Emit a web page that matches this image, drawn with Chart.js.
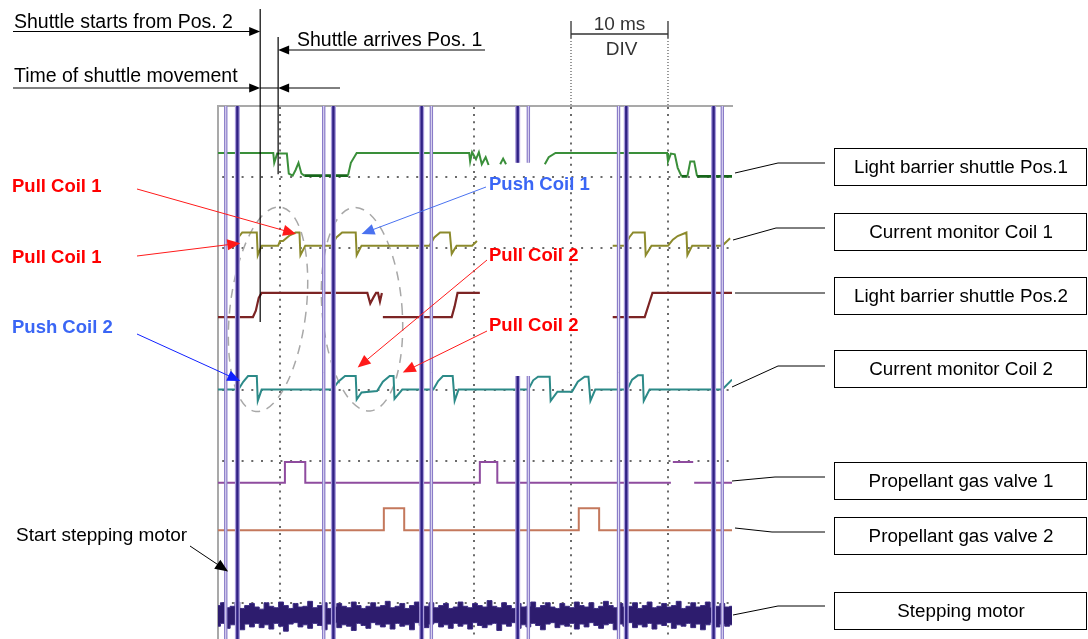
<!DOCTYPE html>
<html>
<head>
<meta charset="utf-8">
<script src="https://cdn.jsdelivr.net/npm/chart.js@4"></script>
<style>
  html, body { margin: 0; padding: 0; background: #fff; overflow: hidden; }
</style>
</head>
<body>
<canvas id="scope" width="1088" height="639"></canvas>
<script>
// time axis in ms (10 ms per division), level axis in screen divisions
const xGrid = [0, 20, 30, 40];
const yGrid = [0, 2, 3, 5, 6];

// Light barrier shuttle Pos.1
const lb1Time = [-6.4, -0.7, -0.6, -0.3, 0.7, 0.9, 1.3, 1.6, 1.9, 2.2, 2.5, 7.0, 7.3, 7.9, 19.5, 19.6, 19.8, 20.2, 20.5, 20.8, 21.2, 21.5, 21.5, 22.7, 23.0, 23.3, 23.3, 27.3, 27.7, 28.4, 39.9, 40.0, 40.3, 40.7, 41.0, 41.4, 42.0, 42.3, 42.7, 43.0, 46.6];
const lb1Level = [6.34, 6.34, 6.2, 6.33, 6.33, 6.05, 6.02, 6.1, 6.2, 6.05, 6.02, 6.02, 6.2, 6.34, 6.34, 6.22, 6.35, 6.25, 6.35, 6.18, 6.28, 6.17, null, 6.18, 6.26, 6.18, null, 6.18, 6.28, 6.34, 6.34, 6.22, 6.33, 6.32, 6.13, 6.01, 6.01, 6.22, 6.22, 6.01, 6.01];

// Current monitor Coil 1
const c1Time = [-5.0, -4.6, -4.3, -3.9, -2.4, -2.3, -1.9, -0.2, 0.0, 0.3, 1.0, 1.6, 2.0, 2.1, 2.6, 5.3, 5.8, 6.4, 7.8, 7.9, 8.4, 15.4, 15.9, 16.5, 17.5, 17.7, 18.2, 19.8, 20.3, 20.3, 34.3, 35.6, 36.0, 36.4, 37.6, 37.7, 38.3, 40.0, 40.5, 41.0, 41.9, 42.0, 42.5, 45.6, 46.4];
const c1Level = [5.035, 5.035, 5.15, 5.22, 5.22, 4.9, 5.035, 5.035, 5.1, 5.1, 5.18, 5.22, 5.22, 4.9, 5.035, 5.035, 5.15, 5.22, 5.22, 4.9, 5.035, 5.035, 5.15, 5.22, 5.22, 4.92, 5.035, 5.035, 5.1, null, 5.035, 5.035, 5.15, 5.22, 5.22, 4.9, 5.035, 5.035, 5.12, 5.17, 5.22, 4.9, 5.035, 5.035, 5.14];

// Light barrier shuttle Pos.2
const lb2Time = [-6.4, -2.8, -2.5, -2.2, -1.9, 9.0, 9.3, 9.6, 9.9, 10.1, 10.3, 10.5, 10.5, 10.6, 17.7, 18.0, 18.3, 20.6, 20.6, 34.3, 37.6, 38.0, 38.4, 46.6];
const lb2Level = [4.03, 4.03, 4.12, 4.3, 4.37, 4.37, 4.22, 4.3, 4.37, 4.37, 4.25, 4.37, null, 4.03, 4.03, 4.18, 4.37, 4.37, null, 4.03, 4.03, 4.2, 4.37, 4.37];

// Current monitor Coil 2
const c2Time = [-6.4, -4.3, -3.8, -3.3, -2.4, -2.3, -1.9, 5.4, 6.0, 6.7, 7.8, 7.9, 8.4, 10.0, 10.6, 11.3, 11.7, 11.8, 12.6, 15.8, 16.3, 16.8, 17.8, 18.0, 18.4, 25.6, 26.1, 26.6, 27.8, 27.9, 28.6, 30.1, 30.7, 31.4, 31.8, 32.0, 32.5, 35.8, 36.3, 36.9, 37.4, 37.5, 38.1, 45.6, 46.6];
const c2Level = [3.01, 3.01, 3.12, 3.2, 3.2, 2.85, 3.01, 3.01, 3.12, 3.2, 3.2, 2.87, 2.97, 2.99, 3.12, 3.2, 3.2, 2.88, 3.01, 3.01, 3.13, 3.2, 3.2, 2.85, 3.01, 3.01, 3.14, 3.19, 3.19, 2.85, 2.98, 2.98, 3.12, 3.19, 3.19, 2.85, 3.01, 3.01, 3.15, 3.21, 3.21, 2.85, 3.01, 3.01, 3.15];

// Propellant gas valves
const v1Time = [-6.4, 0.5, 0.5, 2.6, 2.6, 20.6, 20.6, 22.4, 22.4, 40.3, 40.3, 40.5, 42.6, 42.6, 42.7, 46.6];
const v1Level = [1.7, 1.7, 1.99, 1.99, 1.7, 1.7, 1.99, 1.99, 1.7, 1.7, null, 1.99, 1.99, null, 1.7, 1.7];
const v2Time = [-6.4, 10.7, 10.7, 12.8, 12.8, 30.8, 30.8, 32.9, 32.9, 46.6];
const v2Level = [1.03, 1.03, 1.34, 1.34, 1.03, 1.03, 1.34, 1.34, 1.03, 1.03];

// Stepping motor band, sampled every 0.5 ms from the left edge
const stepStart = -6.4;
const stepDt = 0.5;
const stepTop = [
  -0.03, 0.01, -0.06, -0.04, 0.02, -0.07, -0.03, 0.0, -0.05, -0.08,
  0.01, -0.04, -0.06, 0.02, -0.03, -0.07, 0.0, -0.05, -0.04, 0.03,
  -0.06, -0.03, 0.01, -0.07, -0.05, 0.0, -0.04, -0.06, 0.02, -0.03,
  -0.07, -0.04, 0.01, -0.05, -0.03, 0.03, -0.06, -0.04, 0.0, -0.07,
  -0.03, 0.02, -0.05, -0.04, 0.01, -0.06, -0.03, 0.0, -0.07, -0.05,
  0.02, -0.04, -0.06, 0.0, -0.03, -0.05, 0.04, -0.04, -0.06, 0.01,
  -0.03, -0.07, 0.0, -0.05, -0.04, 0.02, -0.06, -0.03, 0.01, -0.05,
  -0.07, 0.0, -0.04, -0.06, 0.02, -0.03, -0.05, 0.01, -0.07, -0.04,
  0.03, -0.03, -0.06, 0.0, -0.05, -0.04, 0.01, -0.07, -0.03, 0.02,
  -0.06, -0.04, 0.0, -0.05, -0.03, 0.03, -0.07, -0.04, 0.01, -0.05,
  -0.03, 0.02, -0.06, -0.04, 0.0, -0.05, -0.04
];
const stepBottom = [
  -0.32, -0.28, -0.35, -0.30, -0.27, -0.37, -0.29, -0.33, -0.28, -0.34,
  -0.30, -0.36, -0.28, -0.32, -0.39, -0.29, -0.27, -0.33, -0.30, -0.35,
  -0.28, -0.31, -0.37, -0.29, -0.27, -0.34, -0.30, -0.32, -0.38, -0.28,
  -0.31, -0.35, -0.27, -0.30, -0.33, -0.29, -0.36, -0.28, -0.32, -0.30,
  -0.37, -0.27, -0.31, -0.34, -0.29, -0.27, -0.33, -0.30, -0.35, -0.28,
  -0.32, -0.29, -0.36, -0.27, -0.31, -0.34, -0.30, -0.28, -0.38, -0.29,
  -0.32, -0.27, -0.35, -0.30, -0.33, -0.28, -0.31, -0.37, -0.29, -0.27,
  -0.34, -0.30, -0.32, -0.28, -0.36, -0.29, -0.33, -0.27, -0.31, -0.35,
  -0.30, -0.28, -0.37, -0.29, -0.32, -0.27, -0.34, -0.30, -0.33, -0.28,
  -0.36, -0.29, -0.31, -0.27, -0.35, -0.30, -0.32, -0.28, -0.34, -0.29,
  -0.37, -0.30, -0.27, -0.33, -0.29, -0.32, -0.30
];

// vertical marker lines (ms)
const darkMarks = [-4.4, 5.5, 14.6, 24.5, 35.7, 44.7];
const lightMarks = [-5.6, 4.5, 15.6, 25.6, 34.9, 45.6];
const cutMarks = [24.5, 25.6];
const cutSpan = [3.2, 6.2];

// cursors (ms)
const cursorStart = -2.05;
const cursorArrive = -0.2;

const channelNames = ['Light barrier shuttle Pos.1', 'Current monitor Coil 1', 'Light barrier shuttle Pos.2',
  'Current monitor Coil 2', 'Propellant gas valve 1', 'Propellant gas valve 2', 'Stepping motor'];

const FONT = '"Liberation Sans", Arial, sans-serif';

function trace(times, levels) {
  return times.map((t, i) => ({ x: t, y: levels[i] }));
}

function markLines(times) {
  const pts = [];
  times.forEach(t => {
    if (cutMarks.includes(t)) {
      pts.push({ x: t, y: -0.5 }, { x: t, y: cutSpan[0] }, { x: t, y: null }, { x: t, y: cutSpan[1] }, { x: t, y: 7 });
    } else {
      pts.push({ x: t, y: -0.5 }, { x: t, y: 7 });
    }
    pts.push({ x: t, y: null });
  });
  return pts;
}

const stepTimes = stepTop.map((_, i) => stepStart + i * stepDt);

function line(data, color, width, order, extra) {
  return Object.assign({ data, showLine: true, borderColor: color, borderWidth: width,
    pointRadius: 0, fill: false, tension: 0, spanGaps: false, order }, extra || {});
}

function arrow(ctx, x1, y1, x2, y2, color, len, half) {
  len = len || 13; half = half || 5.5;
  const a = Math.atan2(y2 - y1, x2 - x1);
  const c = Math.cos(a), s = Math.sin(a);
  ctx.strokeStyle = color; ctx.fillStyle = color; ctx.lineWidth = 1;
  ctx.beginPath(); ctx.moveTo(x1, y1); ctx.lineTo(x2 - c * len * 0.7, y2 - s * len * 0.7); ctx.stroke();
  ctx.beginPath(); ctx.moveTo(x2, y2);
  ctx.lineTo(x2 - len * c + half * s, y2 - len * s - half * c);
  ctx.lineTo(x2 - len * c - half * s, y2 - len * s + half * c);
  ctx.closePath(); ctx.fill();
}

const callouts = [
  { text: 'Pull Coil 1', color: '#ff0000', bold: true, at: [12, 187], from: [137, 189], to: [1.65, 5.2], arrow: '#ff1a1a' },
  { text: 'Pull Coil 1', color: '#ff0000', bold: true, at: [12, 258], from: [137, 256], to: [-4.1, 5.07], arrow: '#ff1a1a' },
  { text: 'Push Coil 2', color: '#3a66f5', bold: true, at: [12, 328], from: [137, 334], to: [-4.1, 3.13], arrow: '#1020ff' },
  { text: 'Push Coil 1', color: '#3a66f5', bold: true, at: [489, 185], from: [486, 187], to: [8.4, 5.2], arrow: '#4a72f0' },
  { text: 'Pull Coil 2', color: '#ff0000', bold: true, at: [489, 256], from: [487, 260], to: [8.0, 3.32], arrow: '#ff1a1a' },
  { text: 'Pull Coil 2', color: '#ff0000', bold: true, at: [489, 326], from: [487, 331], to: [12.65, 3.25], arrow: '#ff1a1a' },
  { text: 'Start stepping motor', color: '#000', bold: false, at: [16, 536], from: [190, 546], to: [-5.36, 0.45], arrow: '#000' }
];

const boxTops = [148, 213, 277, 350, 462, 517, 592];
const leaders = [[735, 173, 778, 163], [733, 240, 776, 228], [735, 293, 778, 293], [732, 387, 778, 366],
  [732, 481, 775, 477], [735, 528, 772, 532], [733, 615, 778, 606]];

const ellipses = [
  { t: -1.24, v: 4.14, rx: 38, ry: 103, rot: 0.12 },
  { t: 8.45, v: 4.14, rx: 40, ry: 102, rot: -0.08 }
];

const overlay = {
  id: 'overlay',
  beforeDatasetsDraw(chart) {
    const { ctx, scales: { x, y } } = chart;
    ctx.save();
    ctx.strokeStyle = '#a8a8a8';
    ctx.lineWidth = 1.5;
    ctx.setLineDash([9, 7]);
    ellipses.forEach(e => {
      ctx.beginPath();
      ctx.ellipse(x.getPixelForValue(e.t), y.getPixelForValue(e.v), e.rx, e.ry, e.rot, 0, Math.PI * 2);
      ctx.stroke();
    });
    ctx.restore();
  },
  afterDraw(chart) {
    const { ctx, scales: { x, y } } = chart;
    const px = t => x.getPixelForValue(t), py = v => y.getPixelForValue(v);
    ctx.save();

    // cursors and top annotations
    const c1 = px(cursorStart), c2 = px(cursorArrive);
    ctx.strokeStyle = '#000'; ctx.lineWidth = 1.2;
    ctx.beginPath(); ctx.moveTo(c1, 9); ctx.lineTo(c1, py(3.96)); ctx.stroke();
    ctx.beginPath(); ctx.moveTo(c2, 37); ctx.lineTo(c2, py(6.04)); ctx.stroke();

    ctx.font = '19.5px ' + FONT; ctx.fillStyle = '#000'; ctx.textBaseline = 'alphabetic'; ctx.textAlign = 'left';
    ctx.fillText('Shuttle starts from Pos. 2', 14, 28);
    ctx.fillText('Shuttle arrives Pos. 1', 297, 46);
    ctx.fillText('Time of shuttle movement', 14, 82);
    arrow(ctx, 13, 31.5, c1, 31.5, '#000', 11, 4.5);
    arrow(ctx, 485, 50, c2, 50, '#000', 11, 4.5);
    arrow(ctx, 13, 88, c1, 88, '#000', 11, 4.5);
    ctx.beginPath(); ctx.moveTo(c1, 88); ctx.lineTo(c2, 88); ctx.stroke();
    arrow(ctx, 340, 88, c2, 88, '#000', 11, 4.5);

    // 10 ms / DIV marker
    const d1 = px(30), d2 = px(40);
    ctx.strokeStyle = '#333'; ctx.lineWidth = 1.3;
    ctx.beginPath();
    ctx.moveTo(d1, 21); ctx.lineTo(d1, 38);
    ctx.moveTo(d2, 21); ctx.lineTo(d2, 38);
    ctx.moveTo(d1, 34); ctx.lineTo(d2, 34);
    ctx.stroke();
    ctx.setLineDash([1, 2]); ctx.lineWidth = 1;
    ctx.beginPath(); ctx.moveTo(d1, 38); ctx.lineTo(d1, chart.chartArea.top);
    ctx.moveTo(d2, 38); ctx.lineTo(d2, chart.chartArea.top); ctx.stroke();
    ctx.setLineDash([]);
    ctx.fillStyle = '#333'; ctx.textAlign = 'center';
    ctx.font = '19px ' + FONT;
    ctx.fillText('10 ms', (d1 + d2) / 2, 30);
    ctx.font = '19px ' + FONT;
    ctx.fillText('DIV', (d1 + d2) / 2 + 2, 55);

    // callouts
    ctx.textBaseline = 'middle'; ctx.textAlign = 'left';
    callouts.forEach(c => {
      arrow(ctx, c.from[0], c.from[1], px(c.to[0]), py(c.to[1]), c.arrow);
      ctx.font = (c.bold ? 'bold 18.5px ' : '19px ') + FONT;
      ctx.fillStyle = c.color;
      ctx.fillText(c.text, c.at[0], c.at[1]);
    });

    // channel boxes on the right
    ctx.font = '18.8px ' + FONT; ctx.textAlign = 'center';
    channelNames.forEach((name, i) => {
      const top = boxTops[i], L = leaders[i];
      ctx.strokeStyle = '#000'; ctx.lineWidth = 1;
      ctx.strokeRect(834.5, top + 0.5, 252, 37);
      ctx.beginPath(); ctx.moveTo(L[0], L[1]); ctx.lineTo(L[2], L[3]); ctx.lineTo(825, L[3]); ctx.stroke();
      ctx.fillStyle = '#000';
      ctx.fillText(name, 961, top + 19.5);
    });
    ctx.restore();
  }
};

new Chart(document.getElementById('scope'), {
  type: 'scatter',
  data: {
    datasets: [
      line(markLines(darkMarks), '#aa9ddc', 5, 0),
      line(markLines(darkMarks), '#2f2084', 2.4, -1),
      line(markLines(lightMarks), '#8a7cc8', 3.4, 0),
      line(markLines(lightMarks), '#e4dff5', 1, -1),
      line(trace(lb1Time, lb1Level), '#3a8f3a', 2, 2, {
        segment: {
          borderColor: c => (c.p0.parsed.y < 6.05 && c.p1.parsed.y < 6.05) ? '#16661a' : undefined,
          borderWidth: c => (c.p0.parsed.y < 6.05 && c.p1.parsed.y < 6.05) ? 2.8 : undefined
        }
      }),
      line(trace(c1Time, c1Level), '#8c8a2c', 2, 2),
      line(trace(lb2Time, lb2Level), '#7c2424', 2.2, 2),
      line(trace(c2Time, c2Level), '#2c8a88', 2, 2),
      line(trace(v1Time, v1Level), '#8f4c9f', 2, 2),
      line(trace(v2Time, v2Level), '#c4785c', 2, 2),
      line(trace(stepTimes, stepTop), '#3a2a82', 1, 3, { stepped: 'middle' }),
      line(trace(stepTimes, stepBottom), '#3a2a82', 1, 3, { stepped: 'middle', fill: '-1', backgroundColor: '#2d1c6e' })
    ]
  },
  options: {
    responsive: false,
    devicePixelRatio: 1,
    animation: false,
    events: [],
    layout: { padding: { left: 218, right: 356, top: 106, bottom: 0 } },
    plugins: { legend: { display: false }, tooltip: { enabled: false }, title: { display: false } },
    scales: {
      x: {
        type: 'linear', position: 'top', min: -6.4, max: 46.6,
        afterBuildTicks: s => { s.ticks = xGrid.map(v => ({ value: v })); },
        afterFit: s => { s.height = 0; },
        ticks: { display: false },
        grid: { color: '#6a6a6a', lineWidth: 2, drawTicks: false },
        border: { display: true, color: '#a9a9a9', width: 2, dash: [2, 5.1] }
      },
      y: {
        type: 'linear', position: 'left', min: -0.5, max: 7,
        afterBuildTicks: s => { s.ticks = yGrid.map(v => ({ value: v })); },
        afterFit: s => { s.width = 0; },
        ticks: { display: false },
        grid: { color: '#6a6a6a', lineWidth: 2, drawTicks: false },
        border: { display: true, color: '#a9a9a9', width: 2, dash: [2, 7.7], dashOffset: 6.5 }
      }
    }
  },
  plugins: [overlay]
});
</script>
</body>
</html>
